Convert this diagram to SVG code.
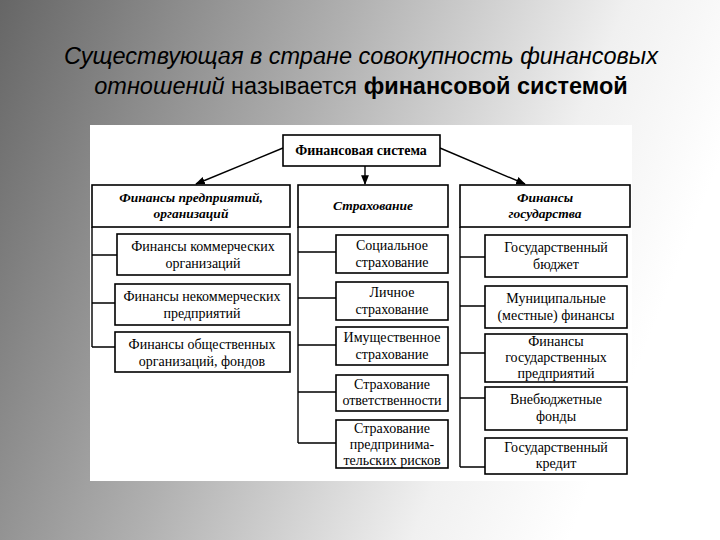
<svg xmlns="http://www.w3.org/2000/svg" width="720" height="540" viewBox="0 0 720 540">
<defs>
<linearGradient id="bg" x1="0" y1="0" x2="1" y2="0.3">
<stop offset="0" stop-color="#666"/><stop offset="0.45" stop-color="#b0b0b0"/><stop offset="0.8" stop-color="#f0f0f0"/><stop offset="1" stop-color="#ffffff"/>
</linearGradient>
<marker id="ah" viewBox="0 0 10 10" refX="9" refY="5" markerWidth="7" markerHeight="7" orient="auto"><path d="M0,1 L10,5 L0,9 z" fill="#000"/></marker>
<style>
.b{fill:#fff;stroke:#000;stroke-width:1.6}
.l{fill:none;stroke:#000;stroke-width:1.4}
.t{font-family:"Liberation Serif",serif;font-size:14px;text-anchor:middle;fill:#000}
.h{font-family:"Liberation Serif",serif;font-size:13.5px;font-weight:bold;font-style:italic;text-anchor:middle;fill:#000}
.title{font-family:"Liberation Sans",sans-serif;font-size:23.5px;text-anchor:middle;fill:#000}
</style>
</defs>
<rect width="720" height="540" fill="url(#bg)"/>
<text class="title" x="361" y="64" font-style="italic">Существующая в стране совокупность финансовых</text>
<text class="title" x="361" y="94"><tspan font-style="italic">отношений</tspan> называется <tspan font-weight="bold">финансовой системой</tspan></text>
<rect x="90" y="125" width="542" height="356" fill="#fff"/>
<g id="connectors">
<line class="l" x1="283" y1="148" x2="196" y2="184" marker-end="url(#ah)"/>
<line class="l" x1="365" y1="166" x2="365" y2="184" marker-end="url(#ah)"/>
<line class="l" x1="440" y1="148" x2="525" y2="184" marker-end="url(#ah)"/>
<path class="l" d="M92,227 V347 M92,255 H117 M92,303 H115 M92,347 H115"/>
<path class="l" d="M298,227 V443 M298,252 H336 M298,298 H336 M298,345 H336 M298,392 H336 M298,443 H336"/>
<path class="l" d="M460,227 V467 M460,257 H485 M460,306 H485 M460,353 H485 M460,398 H485 M460,467 H485"/>
</g>
<g id="root"><rect class="b" x="283" y="135" width="157" height="31"/><text class="t" font-weight="bold" x="361" y="155">Финансовая система</text></g>
<g id="h1"><rect class="b" x="92" y="185" width="198" height="42"/><text class="h" x="191" y="202">Финансы предприятий,</text><text class="h" x="191" y="218">организаций</text></g>
<g id="h2"><rect class="b" x="298" y="185" width="150" height="42"/><text class="h" x="373" y="210">Страхование</text></g>
<g id="h3"><rect class="b" x="460" y="185" width="170" height="42"/><text class="h" x="545" y="202">Финансы</text><text class="h" x="545" y="218">государства</text></g>
<g id="a1"><rect class="b" x="117" y="234" width="173" height="41"/><text class="t" x="203" y="251">Финансы коммерческих</text><text class="t" x="203" y="268">организаций</text></g>
<g id="a2"><rect class="b" x="115" y="284" width="175" height="41"/><text class="t" x="202" y="301">Финансы некоммерческих</text><text class="t" x="202" y="318">предприятий</text></g>
<g id="a3"><rect class="b" x="115" y="332" width="175" height="40"/><text class="t" x="202" y="349">Финансы общественных</text><text class="t" x="202" y="366">организаций, фондов</text></g>
<g id="b1"><rect class="b" x="336" y="235" width="112" height="38"/><text class="t" x="392" y="250">Социальное</text><text class="t" x="392" y="267">страхование</text></g>
<g id="b2"><rect class="b" x="336" y="282" width="112" height="38"/><text class="t" x="392" y="297">Личное</text><text class="t" x="392" y="314">страхование</text></g>
<g id="b3"><rect class="b" x="336" y="327" width="112" height="38"/><text class="t" x="392" y="342">Имущественное</text><text class="t" x="392" y="359">страхование</text></g>
<g id="b4"><rect class="b" x="336" y="375" width="112" height="36"/><text class="t" x="392" y="389">Страхование</text><text class="t" x="392" y="405">ответственности</text></g>
<g id="b5"><rect class="b" x="336" y="420" width="112" height="48"/><text class="t" x="392" y="433">Страхование</text><text class="t" x="392" y="449">предпринима-</text><text class="t" x="392" y="465">тельских рисков</text></g>
<g id="c1"><rect class="b" x="485" y="235" width="142" height="42"/><text class="t" x="556" y="252">Государственный</text><text class="t" x="556" y="269">бюджет</text></g>
<g id="c2"><rect class="b" x="485" y="286" width="142" height="42"/><text class="t" x="556" y="303">Муниципальные</text><text class="t" x="556" y="320">(местные) финансы</text></g>
<g id="c3"><rect class="b" x="485" y="334" width="142" height="48"/><text class="t" x="556" y="346">Финансы</text><text class="t" x="556" y="362">государственных</text><text class="t" x="556" y="378">предприятий</text></g>
<g id="c4"><rect class="b" x="485" y="387" width="142" height="43"/><text class="t" x="556" y="404">Внебюджетные</text><text class="t" x="556" y="421">фонды</text></g>
<g id="c5"><rect class="b" x="485" y="438" width="142" height="36"/><text class="t" x="556" y="452">Государственный</text><text class="t" x="556" y="468">кредит</text></g>
</svg>
